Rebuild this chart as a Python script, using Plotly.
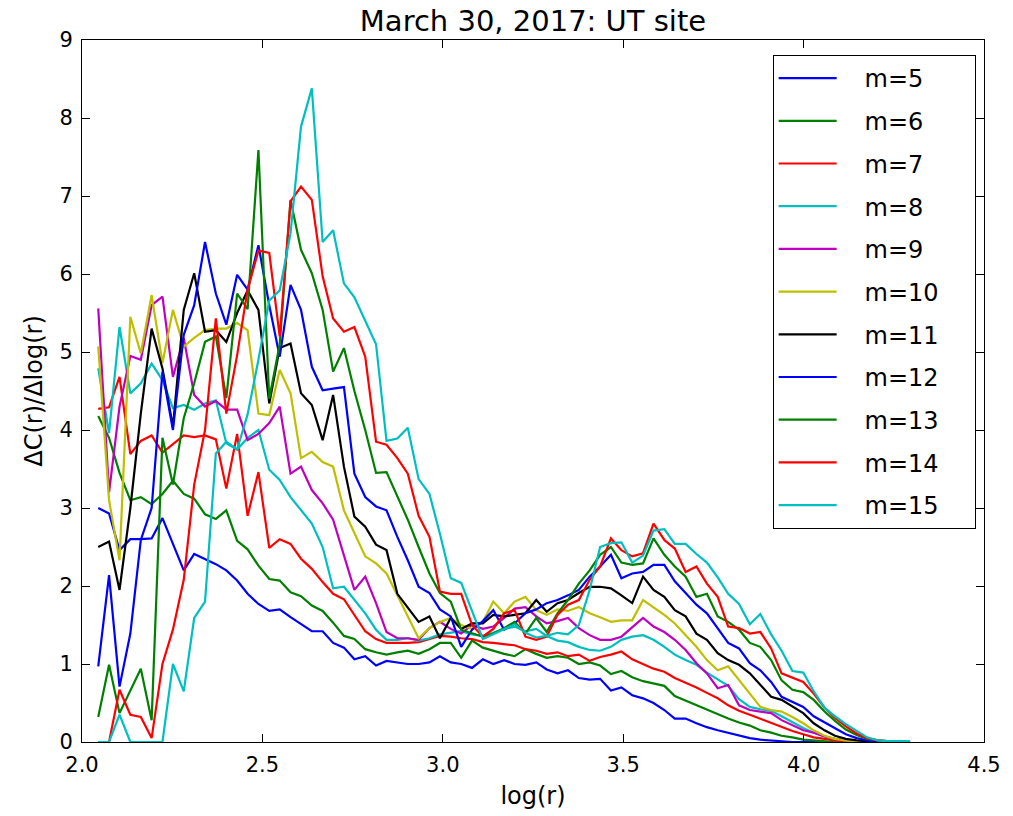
import plotly.graph_objects as go

log_r = [2.045, 2.075, 2.104, 2.134, 2.163, 2.193, 2.223, 2.252, 2.282, 2.311,
         2.341, 2.371, 2.400, 2.430, 2.459, 2.489, 2.519, 2.548, 2.578, 2.607,
         2.637, 2.667, 2.696, 2.726, 2.755, 2.785, 2.815, 2.844, 2.874, 2.903,
         2.933, 2.963, 2.992, 3.022, 3.051, 3.081, 3.111, 3.140, 3.170, 3.199,
         3.229, 3.259, 3.288, 3.318, 3.347, 3.377, 3.407, 3.436, 3.466, 3.495,
         3.525, 3.555, 3.584, 3.614, 3.643, 3.673, 3.703, 3.732, 3.762, 3.791,
         3.821, 3.851, 3.880, 3.910, 3.939, 3.969, 3.999, 4.028, 4.058, 4.087,
         4.117, 4.147, 4.176, 4.206, 4.235, 4.265, 4.295]

m5 = [3.0, 2.93, 2.46, 2.6, 2.6, 2.61, 2.87, 2.55, 2.2, 2.41,
      2.35, 2.28, 2.2, 2.07, 1.9, 1.77, 1.68, 1.7, 1.6, 1.51,
      1.42, 1.42, 1.27, 1.21, 1.06, 1.1, 0.98, 1.04, 1.02, 1.0,
      1.0, 1.02, 1.1, 1.02, 1.0, 0.95, 1.06, 1.0, 1.05, 1.0,
      0.99, 1.02, 0.93, 0.88, 0.92, 0.82, 0.8, 0.81, 0.66, 0.7,
      0.6, 0.56, 0.5, 0.41, 0.3, 0.3, 0.24, 0.19, 0.15, 0.12,
      0.08, 0.05, 0.03, 0.02, 0.01, 0, 0, 0, 0, 0,
      0, 0, 0, 0, 0, 0, 0]
m6 = [4.18, 3.9, 3.45, 3.1, 3.14, 3.05, 3.18, 3.35, 3.18, 3.12,
      2.92, 2.86, 2.97, 2.58, 2.47, 2.26, 2.09, 2.07, 1.92, 1.87,
      1.75, 1.68, 1.53, 1.36, 1.32, 1.19, 1.15, 1.12, 1.15, 1.17,
      1.13, 1.19, 1.27, 1.27, 1.08, 1.3, 1.21, 1.17, 1.13, 1.1,
      1.19, 1.13, 1.08, 1.1, 1.08, 1.0, 1.02, 0.98, 0.87, 0.91,
      0.83, 0.78, 0.75, 0.72, 0.59, 0.53, 0.47, 0.42, 0.36, 0.3,
      0.25, 0.21, 0.15, 0.12, 0.08, 0.06, 0.03, 0.02, 0.01, 0,
      0, 0, 0, 0, 0, 0, 0]
m7 = [4.27, 4.29, 4.68, 3.69, 3.86, 3.93, 3.71, 3.82, 3.93, 3.91,
      3.93, 3.88, 3.25, 3.95, 2.9, 3.46, 2.49, 2.6, 2.54, 2.35,
      2.22, 2.05, 1.9, 1.83, 1.62, 1.42, 1.32, 1.27, 1.27, 1.27,
      1.28, 1.32, 1.36, 1.35, 1.33, 1.32, 1.28, 1.27, 1.25, 1.24,
      1.19, 1.17, 1.13, 1.15, 1.1, 1.12, 1.04, 1.09, 1.12, 1.16,
      1.06, 1.0, 0.94, 0.9, 0.82, 0.76, 0.7, 0.63, 0.56, 0.47,
      0.4, 0.35, 0.3, 0.25, 0.2, 0.14, 0.1, 0.06, 0.04, 0.02,
      0.01, 0, 0, 0, 0, 0, 0]
m8 = [4.79, 3.96, 5.32, 4.47, 4.6, 4.85, 4.64, 4.28, 4.32, 4.26,
      4.34, 4.38, 3.83, 3.75, 3.9, 4.0, 3.49, 3.36, 3.14, 2.97,
      2.8, 2.5, 1.97, 1.99, 1.82, 1.65, 1.44, 1.31, 1.31, 1.33,
      1.3, 1.33, 1.38, 1.4, 1.42, 1.38, 1.36, 1.4, 1.45, 1.48,
      1.42, 1.45, 1.36, 1.3, 1.28, 1.22, 1.18, 1.17, 1.22, 1.31,
      1.35, 1.37, 1.31, 1.22, 1.12, 1.05, 0.99, 0.89, 0.8, 0.72,
      0.55, 0.45, 0.42, 0.4, 0.33, 0.25, 0.18, 0.12, 0.07, 0.04,
      0.02, 0.01, 0, 0, 0, 0, 0]
m9 = [5.56, 3.2, 4.3, 4.95, 4.9, 5.6, 5.71, 4.68, 5.18, 4.45,
      4.3, 4.37, 4.26, 4.26, 3.87, 3.95, 4.09, 4.3, 3.44, 3.53,
      3.23, 3.06, 2.85, 2.38, 1.95, 2.12, 1.78, 1.41, 1.33, 1.33,
      1.31, 1.46, 1.54, 1.45, 1.39, 1.5, 1.45, 1.48, 1.59, 1.71,
      1.73, 1.61, 1.52, 1.55, 1.59, 1.46, 1.37, 1.31, 1.31, 1.35,
      1.47, 1.59, 1.48, 1.41, 1.31, 1.18, 1.01, 0.88, 0.69, 0.73,
      0.47, 0.41, 0.39, 0.37, 0.28, 0.22, 0.15, 0.12, 0.07, 0.04,
      0.02, 0.01, 0, 0, 0, 0, 0]
m10 = [5.07, 3.1, 2.33, 5.45, 4.98, 5.73, 4.86, 5.54, 5.07, 5.18,
       5.28, 5.3, 5.3, 5.37, 5.28, 4.21, 4.19, 4.77, 4.47, 3.64,
       3.72, 3.59, 3.53, 2.97, 2.68, 2.38, 2.29, 2.16, 1.88, 1.61,
       1.33, 1.46, 1.54, 1.59, 1.5, 1.45, 1.54, 1.8, 1.65, 1.8,
       1.86, 1.69, 1.63, 1.7, 1.68, 1.73, 1.65, 1.6, 1.54, 1.56,
       1.56, 1.82, 1.73, 1.63, 1.52, 1.37, 1.22, 1.05, 0.92, 0.97,
       0.79, 0.62, 0.45, 0.41, 0.39, 0.32, 0.24, 0.15, 0.08, 0.04,
       0.02, 0.01, 0, 0, 0, 0, 0]
m11 = [2.5, 2.57, 1.95, 3.0, 4.21, 5.3, 4.79, 4.04, 5.54, 6.01,
       5.26, 5.28, 5.13, 5.5, 5.79, 5.54, 4.34, 5.05, 5.11, 4.47,
       4.32, 3.87, 4.45, 3.53, 2.89, 2.76, 2.53, 2.46, 1.9, 1.73,
       1.54, 1.61, 1.33, 1.59, 1.45, 1.52, 1.52, 1.63, 1.61, 1.63,
       1.65, 1.82, 1.67, 1.78, 1.82, 1.91, 1.99, 1.99, 1.97, 1.88,
       1.78, 2.12, 1.95, 1.86, 1.69, 1.61, 1.39, 1.31, 1.14, 1.05,
       0.99, 0.88, 0.73, 0.58, 0.54, 0.45, 0.37, 0.24, 0.15, 0.08,
       0.04, 0.02, 0.01, 0, 0, 0, 0]
m12 = [0.97, 2.14, 0.71, 1.39, 2.59, 3.0, 4.75, 4.0, 5.22, 5.6,
       6.41, 5.75, 5.35, 5.99, 5.8, 6.37, 5.6, 4.94, 5.86, 5.54,
       4.81, 4.51, 4.53, 4.55, 3.44, 3.14, 3.02, 2.97, 2.63, 2.33,
       1.99, 1.91, 1.7, 1.61, 1.22, 1.44, 1.55, 1.69, 1.44, 1.52,
       1.65, 1.7, 1.78, 1.82, 1.88, 1.95, 2.12, 2.25, 2.4, 2.1,
       2.16, 2.18, 2.27, 2.27, 2.06, 1.91, 1.76, 1.65, 1.46, 1.27,
       1.2, 1.01, 0.92, 0.77, 0.58, 0.52, 0.45, 0.33, 0.25, 0.17,
       0.1, 0.05, 0.02, 0.01, 0, 0, 0]
m13 = [0.32, 0.99, 0.37, 0.67, 0.94, 0.28, 3.9, 3.3, 4.15, 4.6,
       5.13, 5.2, 4.41, 5.75, 5.55, 7.59, 4.4, 5.1, 6.95, 6.31,
       6.01, 5.54, 4.75, 5.05, 4.5, 4.0, 3.45, 3.46, 3.14, 2.85,
       2.5, 2.16, 1.91, 1.8, 1.44, 1.4, 1.35, 1.39, 1.46, 1.54,
       1.39, 1.59, 1.41, 1.65, 1.82, 2.03, 2.2, 2.4, 2.5, 2.3,
       2.27, 2.29, 2.61, 2.4, 2.25, 2.12, 1.86, 1.9, 1.61, 1.54,
       1.44, 1.27, 1.22, 1.05, 0.79, 0.67, 0.64, 0.54, 0.39, 0.27,
       0.16, 0.09, 0.04, 0.02, 0.01, 0, 0]
m14 = [0, 0, 0.67, 0.35, 0.32, 0.05, 1.0, 1.44, 2.08, 3.3,
       4.0, 5.43, 4.21, 4.96, 5.8, 6.3, 6.27, 5.2, 6.93, 7.12,
       6.95, 5.97, 5.43, 5.26, 5.32, 4.94, 3.85, 3.81, 3.64, 3.44,
       2.9, 2.63, 1.93, 1.9, 1.9, 1.5, 1.35, 1.45, 1.65, 1.69,
       1.35, 1.31, 1.35, 1.63, 1.76, 1.82, 2.08, 2.25, 2.61, 2.46,
       2.38, 2.42, 2.8, 2.59, 2.48, 2.18, 2.25, 2.03, 1.86, 1.48,
       1.46, 1.39, 1.41, 1.2, 0.88, 0.82, 0.77, 0.62, 0.44, 0.31,
       0.2, 0.11, 0.05, 0.02, 0.01, 0, 0]
m15 = [0, 0, 0.35, 0, 0, 0, 0, 1.0, 0.65, 1.59,
       1.8, 3.7, 3.85, 3.75, 4.2, 4.9, 5.66, 5.79, 6.52, 7.89,
       8.38, 6.41, 6.56, 5.88, 5.7, 5.4, 5.1, 3.86, 3.89, 4.03,
       3.37, 3.18, 2.67, 2.1, 2.04, 1.68, 1.32, 1.38, 1.45, 1.51,
       1.4, 1.34, 1.36, 1.4, 1.38, 1.5, 1.95, 2.5, 2.55, 2.56,
       2.3, 2.39, 2.71, 2.73, 2.54, 2.54, 2.41, 2.3, 2.11, 1.9,
       1.77, 1.51, 1.64, 1.38, 1.17, 0.91, 0.89, 0.65, 0.44, 0.33,
       0.23, 0.14, 0.06, 0.02, 0.01, 0.01, 0.01]

series = [("m=5", m5), ("m=6", m6), ("m=7", m7), ("m=8", m8), ("m=9", m9),
          ("m=10", m10), ("m=11", m11), ("m=12", m12), ("m=13", m13),
          ("m=14", m14), ("m=15", m15)]
colors = ["#0000ff", "#008000", "#ff0000", "#00bfbf", "#bf00bf", "#bfbf00",
          "#000000", "#0000ff", "#008000", "#ff0000", "#00bfbf"]

NB = "\u00a0"
fig = go.Figure()
for (name, vals), col in zip(series, colors):
    fig.add_trace(go.Scatter(x=log_r, y=vals, mode="lines",
                             name=NB * 3 + name + NB * 4,
                             legendgroup=name,
                             line=dict(color=col, width=2.2)))

font_family = "DejaVu Sans"
fig.update_layout(
    width=1013, height=816,
    margin=dict(l=82, r=22, t=40, b=74),
    paper_bgcolor="white", plot_bgcolor="white",
    font=dict(family=font_family, size=21, color="black"),
    title=dict(text="March 30, 2017: UT site", x=0.5, xref="paper",
               y=1 - 21 / 816, yref="container", yanchor="middle",
               xanchor="center", font=dict(size=29, color="black")),
    showlegend=True,
    legend=dict(x=(778 - 82) / 909, y=(742 - 55) / 702, xanchor="left", yanchor="top",
                bordercolor="black", borderwidth=1, bgcolor="white",
                font=dict(size=24), tracegroupgap=8.5, itemwidth=58),
    xaxis=dict(range=[2.0, 4.5], dtick=0.5, tick0=2.0, tickformat=".1f",
               ticks="inside", ticklen=8, tickcolor="black",
               showline=True, linecolor="black", linewidth=1, mirror="ticks",
               showgrid=False, zeroline=False, ticklabelstandoff=4,
               title=dict(text="log(r)", font=dict(size=24), standoff=10)),
    yaxis=dict(range=[0, 9], dtick=1, tick0=0,
               ticks="inside", ticklen=8, tickcolor="black",
               showline=True, linecolor="black", linewidth=1, mirror="ticks",
               showgrid=False, zeroline=False, ticklabelstandoff=4,
               title=dict(text="ΔC(r)/Δlog(r)", font=dict(size=24), standoff=10)),
)

fig.write_html("out.html")
